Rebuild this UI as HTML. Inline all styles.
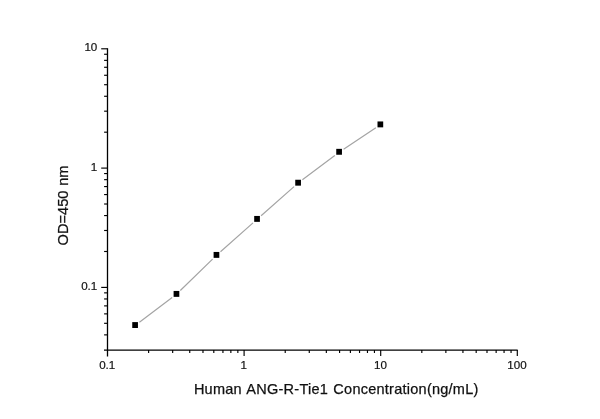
<!DOCTYPE html>
<html><head><meta charset="utf-8"><title>Standard curve</title>
<style>html,body{margin:0;padding:0;background:#fff}svg{display:block}</style></head>
<body>
<svg width="600" height="419" viewBox="0 0 600 419">
<rect width="600" height="419" fill="#fff"/>
<g stroke="#000" stroke-width="1.3" fill="none">
<path d="M107.5,48.20 V356.40"/>
<path d="M104.0,350.1 H517.65"/>
</g><g stroke="#000" stroke-width="1.15" fill="none">
<path d="M104.10,334.87 H107.5"/>
<path d="M104.10,323.31 H107.5"/>
<path d="M104.10,313.87 H107.5"/>
<path d="M104.10,305.88 H107.5"/>
<path d="M104.10,298.96 H107.5"/>
<path d="M104.10,292.86 H107.5"/>
<path d="M101.20,287.40 H107.5"/>
<path d="M104.10,251.49 H107.5"/>
<path d="M104.10,230.48 H107.5"/>
<path d="M104.10,215.57 H107.5"/>
<path d="M104.10,204.01 H107.5"/>
<path d="M104.10,194.57 H107.5"/>
<path d="M104.10,186.58 H107.5"/>
<path d="M104.10,179.66 H107.5"/>
<path d="M104.10,173.56 H107.5"/>
<path d="M101.20,168.10 H107.5"/>
<path d="M104.10,132.19 H107.5"/>
<path d="M104.10,111.18 H107.5"/>
<path d="M104.10,96.27 H107.5"/>
<path d="M104.10,84.71 H107.5"/>
<path d="M104.10,75.27 H107.5"/>
<path d="M104.10,67.28 H107.5"/>
<path d="M104.10,60.36 H107.5"/>
<path d="M104.10,54.26 H107.5"/>
<path d="M101.20,48.80 H107.5"/>
<path d="M148.62,350.1 V353.00"/>
<path d="M172.67,350.1 V353.00"/>
<path d="M189.74,350.1 V353.00"/>
<path d="M202.98,350.1 V353.00"/>
<path d="M213.80,350.1 V353.00"/>
<path d="M222.94,350.1 V353.00"/>
<path d="M230.86,350.1 V353.00"/>
<path d="M237.85,350.1 V353.00"/>
<path d="M244.10,350.1 V356.10"/>
<path d="M285.22,350.1 V353.00"/>
<path d="M309.27,350.1 V353.00"/>
<path d="M326.34,350.1 V353.00"/>
<path d="M339.58,350.1 V353.00"/>
<path d="M350.40,350.1 V353.00"/>
<path d="M359.54,350.1 V353.00"/>
<path d="M367.46,350.1 V353.00"/>
<path d="M374.45,350.1 V353.00"/>
<path d="M380.70,350.1 V356.10"/>
<path d="M421.82,350.1 V353.00"/>
<path d="M445.87,350.1 V353.00"/>
<path d="M462.94,350.1 V353.00"/>
<path d="M476.18,350.1 V353.00"/>
<path d="M487.00,350.1 V353.00"/>
<path d="M496.14,350.1 V353.00"/>
<path d="M504.06,350.1 V353.00"/>
<path d="M511.05,350.1 V353.00"/>
<path d="M517.30,350.1 V356.10"/>
</g>
<path fill="none" stroke="#a4a4a4" stroke-width="1.2" transform="translate(0,0.4)" d="M139.41,321.80 L172.14,297.15 M180.32,290.13 L212.58,258.67 M220.49,251.32 L253.01,222.48 M261.10,215.33 L294.05,186.27 M302.41,179.45 L334.79,155.05 M343.60,148.81 L375.85,127.39"/>
<rect x="132.25" y="322.10" width="5.7" height="5.9" fill="#000"/>
<rect x="173.60" y="290.95" width="5.7" height="5.9" fill="#000"/>
<rect x="213.60" y="251.95" width="5.7" height="5.9" fill="#000"/>
<rect x="254.20" y="215.95" width="5.7" height="5.9" fill="#000"/>
<rect x="295.25" y="179.75" width="5.7" height="5.9" fill="#000"/>
<rect x="336.25" y="148.85" width="5.7" height="5.9" fill="#000"/>
<rect x="377.50" y="121.45" width="5.7" height="5.9" fill="#000"/>
<g font-family="'Liberation Sans', Arial, sans-serif" fill="#111" stroke="#111" stroke-width="0.25">
<g font-size="11.6px" text-anchor="end" stroke-width="0.2">
<text x="97.3" y="51.3">10</text>
<text x="97.3" y="171.0">1</text>
<text x="97.3" y="290.4">0.1</text>
</g><g font-size="11.6px" text-anchor="middle" stroke-width="0.2">
<text x="107.2" y="369.4">0.1</text>
<text x="243.8" y="369.4">1</text>
<text x="380.4" y="369.4">10</text>
<text x="517.0" y="369.4">100</text>
</g>
<text x="193.9" y="394.1" font-size="14.5px" letter-spacing="0.25" word-spacing="1.0">Human ANG-R-Tie1 Concentration(ng/mL)</text>
<text transform="translate(67.5,245.4) rotate(-90)" font-size="14.6px" word-spacing="0.8">OD=450 nm</text>
</g></svg>
</body></html>
